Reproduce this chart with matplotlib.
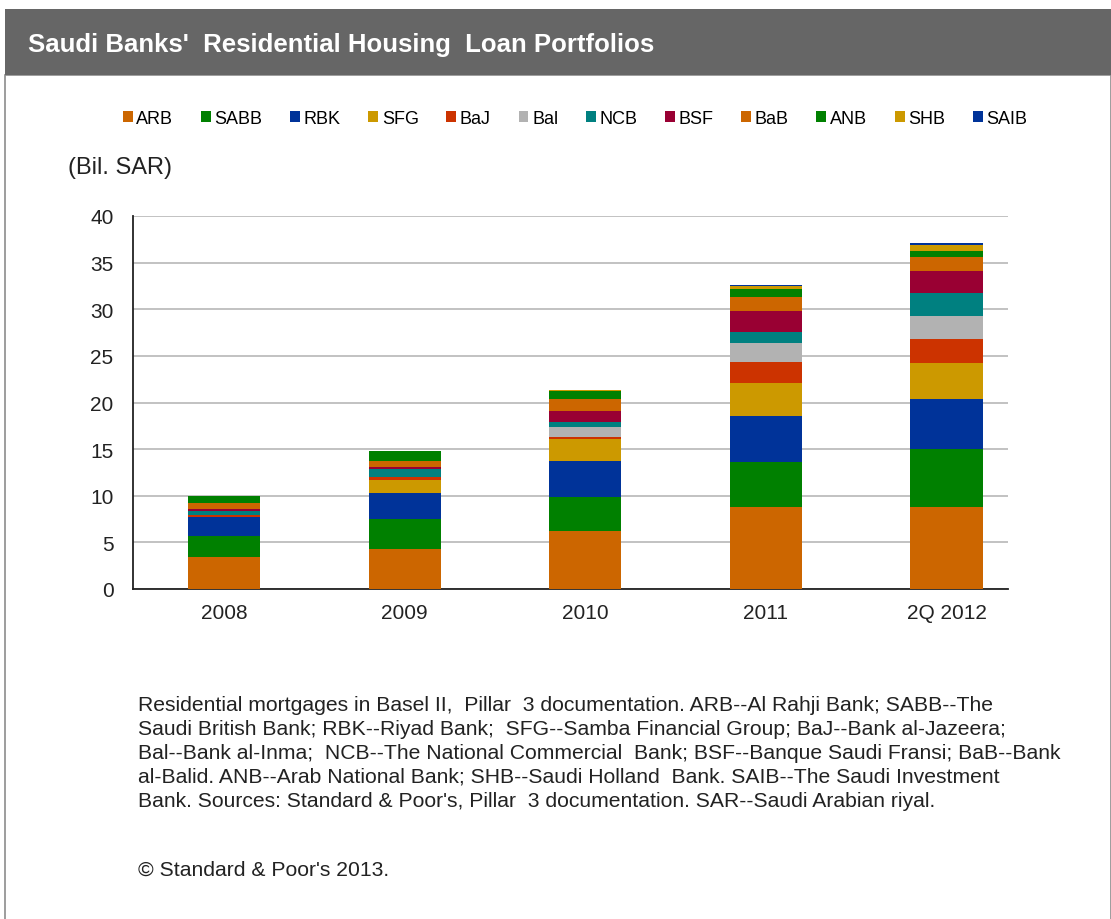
import matplotlib
matplotlib.use("Agg")
import matplotlib.pyplot as plt
from matplotlib.patches import Rectangle
import numpy as np

categories = ["2008", "2009", "2010", "2011", "2Q 2012"]
legend_labels = ["ARB", "SABB", "RBK", "SFG", "BaJ", "Bal", "NCB", "BSF", "BaB", "ANB", "SHB", "SAIB"]

ARB  = [3.40, 4.29, 6.19, 8.76, 8.76]
SABB = [2.32, 3.22, 3.64, 4.89, 6.25]
RBK  = [1.97, 2.75, 3.86, 4.93, 5.37]
SFG  = [0.00, 1.46, 2.40, 3.48, 3.82]
BaJ  = [0.28, 0.26, 0.24, 2.32, 2.61]
BaI  = [0.00, 0.00, 1.01, 1.97, 2.50]
NCB  = [0.36, 0.89, 0.60, 1.24, 2.40]
BSF  = [0.25, 0.25, 1.11, 2.19, 2.36]
BaB  = [0.60, 0.57, 1.33, 1.50, 1.50]
ANB  = [0.81, 1.08, 0.82, 0.89, 0.64]
SHB  = [0.00, 0.00, 0.17, 0.29, 0.68]
SAIB = [0.00, 0.00, 0.00, 0.17, 0.18]

series = [ARB, SABB, RBK, SFG, BaJ, BaI, NCB, BSF, BaB, ANB, SHB, SAIB]
colors = ["#CC6600", "#008000", "#003399", "#CC9900", "#CC3300", "#B2B2B2",
          "#008080", "#990033", "#CC6600", "#008000", "#CC9900", "#003399"]

footnote = ("Residential mortgages in Basel II,  Pillar  3 documentation. ARB--Al Rahji Bank; SABB--The\n"
            "Saudi British Bank; RBK--Riyad Bank;  SFG--Samba Financial Group; BaJ--Bank al-Jazeera;\n"
            "Bal--Bank al-Inma;  NCB--The National Commercial  Bank; BSF--Banque Saudi Fransi; BaB--Bank\n"
            "al-Balid. ANB--Arab National Bank; SHB--Saudi Holland  Bank. SAIB--The Saudi Investment\n"
            "Bank. Sources: Standard & Poor's, Pillar  3 documentation. SAR--Saudi Arabian riyal.")
copyright_text = "\u00a9 Standard & Poor's 2013."
title = "Saudi Banks'  Residential Housing  Loan Portfolios"

plt.rcParams['font.family'] = ['Liberation Sans', 'DejaVu Sans']

W, H = 1111, 920
fig = plt.figure(figsize=(W / 100, H / 100), dpi=100)
fig.patch.set_facecolor("white")

# banner and frame
fig.patches.append(Rectangle((5 / W, -0.01), (W - 5.5) / W, (H - 76) / H + 0.01, transform=fig.transFigure,
                             facecolor="none", edgecolor="#8c8c8c", linewidth=1.2, zorder=-5))
fig.patches.append(Rectangle((5 / W, (H - 76) / H), (W - 5) / W, 66 / H, transform=fig.transFigure,
                             facecolor="#666666", edgecolor="none", zorder=-4))
fig.text(28 / W, (H - 45) / H, title, color="white", fontsize=18.5, fontweight="bold",
         va="center", ha="left")

ax = fig.add_axes([133 / W, 1 - 590 / H, (1008 - 133) / W, (590 - 217) / H])
x = np.arange(len(categories))
bottom = np.zeros(len(categories))
handles = []
for vals, c, lab in zip(series, colors, legend_labels):
    v = np.array(vals)
    b = ax.bar(x, v, width=0.4, bottom=bottom, color=c, edgecolor="none", label=lab, zorder=3)
    handles.append(b)
    bottom += v

ax.set_ylim(0, 40)
ax.set_yticks(np.arange(0, 41, 5))
ax.set_xlim(-0.504, 4.34)
ax.set_xticks(x)
ax.set_xticklabels(categories)
ax.tick_params(axis="both", labelsize=15, length=0, colors="#222222")
ax.tick_params(axis="x", pad=10)
ax.tick_params(axis="y", pad=14)
ax.grid(axis="y", color="#b8b8b8", linewidth=1.2, zorder=0)
for s in ["top", "right"]:
    ax.spines[s].set_visible(False)
ax.spines["left"].set_color("#222222")
ax.spines["bottom"].set_color("#222222")
ax.spines["left"].set_linewidth(1.3)
ax.spines["bottom"].set_linewidth(1.3)

fig.text(68 / W, 1 - 168 / H, "(Bil. SAR)", fontsize=17, color="#222222", va="center", ha="left")

fig.legend(handles=handles, labels=legend_labels, loc="center", bbox_to_anchor=(575 / W, 1 - 119 / H),
           ncol=12, frameon=False, fontsize=13, handlelength=0.55, handleheight=0.55,
           handletextpad=0.2, columnspacing=1.53, borderpad=0)

fig.text(138 / W, 1 - 696 / H, footnote, fontsize=15.2, color="#222222", va="top", ha="left",
         linespacing=1.33)
fig.text(138 / W, 1 - 870 / H, copyright_text, fontsize=15.2, color="#222222", va="center", ha="left")

fig.savefig("out.png", dpi=100)
